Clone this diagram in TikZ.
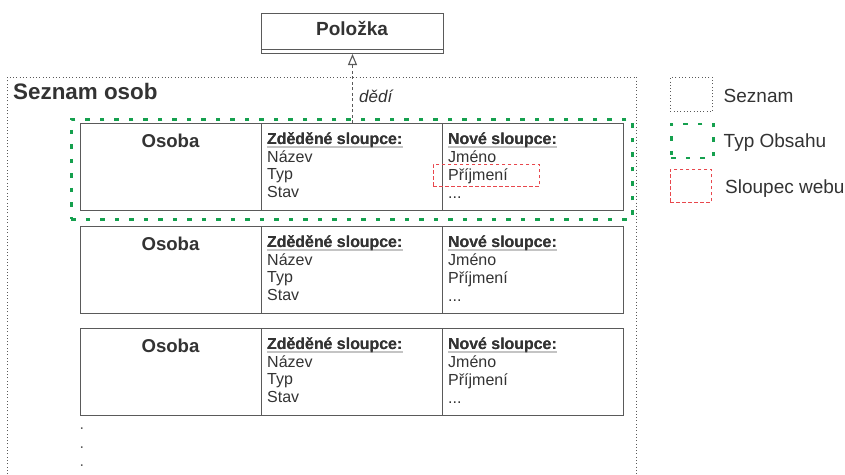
\documentclass[tikz,border=0pt]{standalone}
\usepackage{fontspec}
\setmainfont{Liberation Sans}
\usetikzlibrary{arrows.meta}
\definecolor{ink}{HTML}{333333}
\definecolor{frame}{HTML}{5A5A5A}
\definecolor{ctgreen}{HTML}{15A04E}
\definecolor{colred}{HTML}{E8474D}
\definecolor{ulgray}{HTML}{C4C4C4}
\begin{document}
\begin{tikzpicture}[x=1pt,y=-1pt,
  every node/.style={text=ink, inner sep=0pt},
  cell/.style={draw=frame, line width=1.1pt, minimum width=181pt, minimum height=87pt, anchor=north west},
  title/.style={font=\bfseries\fontsize{18.6}{20}\selectfont, anchor=base},
  head/.style={font=\bfseries\fontsize{15.9}{18}\selectfont, anchor=base west},
  entry/.style={font=\fontsize{16}{18}\selectfont, anchor=base west},
  uline/.style={draw=ulgray, line width=1.8pt},
  listline/.style={draw=frame, line width=0.9pt, dash pattern=on 0.9pt off 2.4pt},
  ctline/.style={draw=ctgreen, line width=2.7pt, dash pattern=on 4.5pt off 10pt},
  webline/.style={draw=colred, line width=0.9pt, dash pattern=on 3.5pt off 2.5pt},
  legend/.style={font=\fontsize{19}{21}\selectfont, anchor=base west}]
\useasboundingbox (0,0) rectangle (845,474);
\fill[white] (0,0) rectangle (845,474);

% outer list frame (open at the bottom)
\draw[listline] (7.5,474) -- (7.5,77) -- (636.5,77) -- (636.5,474);
\node[font=\bfseries\fontsize{22.4}{24}\selectfont, anchor=base west] (seznam) at (13,99) {Seznam osob};

% parent content type
\node[draw=frame, line width=1pt, minimum width=182pt, minimum height=40pt, anchor=north west] (pol) at (261,13) {};
\draw[frame, line width=1pt] ([yshift=5pt]pol.south west) -- ([yshift=5pt]pol.south east);
\node[font=\bfseries\fontsize{19}{21}\selectfont, anchor=base] (poltext) at (352,35) {Položka};

% rows of the list
\foreach \r/\y in {1/123, 2/226, 3/328} {
  \node[cell] (o\r) at (80,\y) {};
  \node[cell] (z\r) at (261,\y) {};
  \node[cell] (n\r) at (442,\y) {};
  \node[title] (ot\r) at (170.5,\y+24) {Osoba};
  \node[head] (zh\r) at (267,\y+21) {Zděděné sloupce:};
  \draw[uline] ([yshift=-3pt]zh\r.base west) -- ([yshift=-3pt]zh\r.base east);
  \node[head] (zh\r) at (267,\y+21) {Zděděné sloupce:};
  \node[entry] (za\r) at (267,\y+39) {Název};
  \node[entry] (zb\r) at (267,\y+56.5) {Typ};
  \node[entry] (zc\r) at (267,\y+74) {Stav};
  \node[head] (nh\r) at (448,\y+21) {Nové sloupce:};
  \draw[uline] ([yshift=-3pt]nh\r.base west) -- ([yshift=-3pt]nh\r.base east);
  \node[head] (nh\r) at (448,\y+21) {Nové sloupce:};
  \node[entry] (na\r) at (448,\y+39) {Jméno};
  \node[entry] (nb\r) at (448,\y+57) {Příjmení};
  \node[entry] (nc\r) at (448,\y+75) {...};
}

% content type and site column markers
\node[ctline, minimum width=561pt, minimum height=100pt, anchor=north west] (ct) at (70,118) {};
\node[webline, minimum width=106pt, minimum height=22pt, anchor=north west] (web) at (433,164) {};

% inheritance
\draw[frame, line width=0.9pt, dash pattern=on 3pt off 2.5pt, -{Triangle[open, length=11pt, width=9pt, line width=1.1pt]}]
  (pol.south |- o1.north) -- (pol.south);
\node[font=\itshape\fontsize{17}{19}\selectfont, anchor=base west] (dedi) at (359,102) {dědí};

% continuation dots
\foreach \k/\y in {1/429, 2/448, 3/466}
  \node[entry, text=frame] (dot\k) at (79.5,\y) {.};

% legend
\node[listline, minimum width=42pt, minimum height=34pt, anchor=north west] (lgl) at (670,77) {};
\node[legend] (lglt) at (723.5,102) {Seznam};
\node[ctline, minimum width=42pt, minimum height=34pt, anchor=north west] (lgc) at (670,122.5) {};
\node[legend] (lgct) at (723.5,147) {Typ Obsahu};
\node[webline, minimum width=41pt, minimum height=33pt, anchor=north west] (lgw) at (670,169) {};
\node[legend] (lgwt) at (725,193) {Sloupec webu};
\end{tikzpicture}
\end{document}
